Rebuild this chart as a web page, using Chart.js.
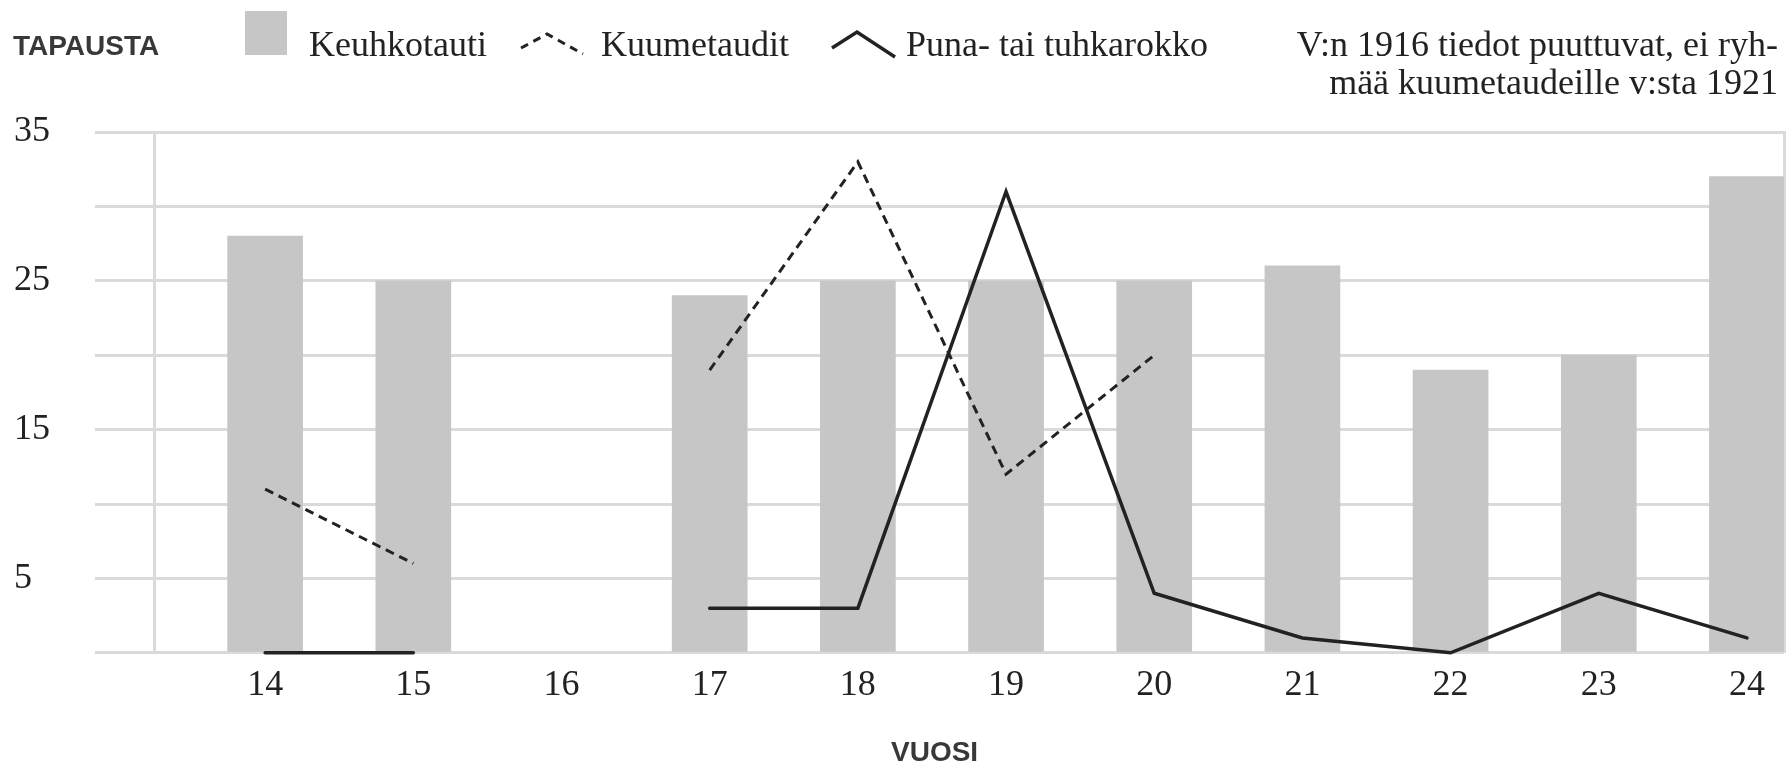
<!DOCTYPE html>
<html lang="fi">
<head>
  <meta charset="UTF-8">
  <title>Tapausta vuosittain 1914-1924</title>
  <script src="https://cdn.jsdelivr.net/npm/chart.js"></script>
  <style>
    html, body {
      margin: 0;
      padding: 0;
      background: #fff;
    }
    body {
      position: relative;
      width: 1787px;
      height: 765px;
      overflow: hidden;
      font-family: 'Liberation Serif', 'Times New Roman', serif;
      color: #222;
    }
    .chart-box {
      position: absolute;
      left: 0;
      top: 0;
      width: 1787px;
      height: 765px;
    }
    .sans {
      position: absolute;
      font-family: 'Liberation Sans', Arial, sans-serif;
      font-weight: bold;
      font-size: 28px;
      line-height: 32px;
      color: #383838;
      white-space: nowrap;
    }
    .serif {
      position: absolute;
      font-size: 36px;
      line-height: 38px;
      white-space: nowrap;
    }
    .icon {
      position: absolute;
    }
    .note {
      right: 9px;
      top: 25px;
      text-align: right;
    }
  </style>
</head>
<body>
  <div class="chart-box">
    <canvas id="chart" width="1787" height="765"></canvas>
  </div>

  <!-- axis titles -->
  <div class="sans" style="left:13px; top:30px;">TAPAUSTA</div>
  <div class="sans" style="left:891px; top:736px;">VUOSI</div>

  <!-- legend -->
  <div class="icon" style="left:245px; top:11px; width:42px; height:44px; background:#c6c6c6;"></div>
  <div class="serif" id="leg0" style="left:309px; top:25px;"></div>
  <svg class="icon" style="left:519px; top:30px;" width="68" height="28">
    <polyline points="2,18 28,4 64,24" fill="none" stroke="#222" stroke-width="3" stroke-dasharray="8 6"/>
  </svg>
  <div class="serif" id="leg1" style="left:601px; top:25px;"></div>
  <svg class="icon" style="left:830px; top:28px;" width="68" height="32">
    <polyline points="2,20 27,4 65,29" fill="none" stroke="#222" stroke-width="3.5"/>
  </svg>
  <div class="serif" id="leg2" style="left:906px; top:25px;"></div>

  <div class="serif note">V:n 1916 tiedot puuttuvat, ei ryh-<br>mää kuumetaudeille v:sta 1921</div>

  <script>
    // Vuodet (19xx)
    const years = [14, 15, 16, 17, 18, 19, 20, 21, 22, 23, 24];

    // Sarjat
    const seriesNames = ['Keuhkotauti', 'Kuumetaudit', 'Puna- tai tuhkarokko'];
    const keuhkotauti = [28, 25, null, 24, 25, 25, 25, 26, 19, 20, 32];
    const kuumetaudit = [11, 6, null, 19, 33, 12, 20, null, null, null, null];
    const punaTuhkarokko = [0, 0, null, 3, 3, 31, 4, 1, 0, 4, 1];

    // Y-akselin numerot: vain 5, 15, 25, 35
    const yLabels = [5, 15, 25, 35];

    const gridColor = '#dadada';
    const inkColor = '#222';

    seriesNames.forEach((name, i) => {
      document.getElementById('leg' + i).textContent = name;
    });

    const toPoints = values => years.map((y, i) => ({ x: y, y: values[i] }));

    Chart.defaults.font.family = "'Liberation Serif', 'Times New Roman', serif";
    Chart.defaults.color = inkColor;

    const ctx = document.getElementById('chart').getContext('2d');
    const chart = new Chart(ctx, {
      type: 'bar',
      data: {
        datasets: [
          {
            type: 'line',
            label: seriesNames[1],
            data: toPoints(kuumetaudit),
            borderColor: inkColor,
            borderWidth: 3,
            borderDash: [9, 6],
            pointRadius: 0,
            tension: 0,
            spanGaps: false,
            clip: 6,
            order: 1
          },
          {
            type: 'line',
            label: seriesNames[2],
            data: toPoints(punaTuhkarokko),
            borderColor: inkColor,
            borderWidth: 3.5,
            borderCapStyle: 'round',
            pointRadius: 0,
            tension: 0,
            spanGaps: false,
            clip: 6,
            order: 2
          },
          {
            type: 'bar',
            label: seriesNames[0],
            data: toPoints(keuhkotauti),
            backgroundColor: '#c6c6c6',
            borderWidth: 0,
            barThickness: 75,
            order: 3
          }
        ]
      },
      options: {
        responsive: false,
        animation: false,
        layout: {
          padding: { top: 132, left: 14, right: 3, bottom: 47 }
        },
        plugins: {
          legend: { display: false },
          tooltip: { enabled: false }
        },
        scales: {
          x: {
            type: 'linear',
            min: 13.25,
            max: 24.25,
            offset: false,
            grid: { display: false, drawTicks: false },
            border: { display: false },
            afterBuildTicks: scale => {
              scale.ticks = years.map(v => ({ value: v }));
            },
            ticks: {
              autoSkip: false,
              maxRotation: 0,
              padding: 11,
              font: { size: 36 },
              color: inkColor
            }
          },
          y: {
            min: 0,
            max: 35,
            grid: {
              color: gridColor,
              lineWidth: 3,
              drawTicks: true,
              tickLength: 59
            },
            border: { display: true, color: gridColor, width: 3 },
            ticks: {
              stepSize: 5,
              crossAlign: 'far',
              padding: 45,
              font: { size: 36 },
              color: inkColor,
              callback: v => (yLabels.includes(v) ? String(v) : '')
            },
            afterFit: scale => { scale.width = 140; }
          },
          y2: {
            position: 'right',
            min: 0,
            max: 35,
            grid: { display: false, drawTicks: false },
            border: { display: true, color: gridColor, width: 3 },
            ticks: { display: false },
            afterFit: scale => { scale.width = 0; }
          }
        }
      }
    });
  </script>
</body>
</html>
